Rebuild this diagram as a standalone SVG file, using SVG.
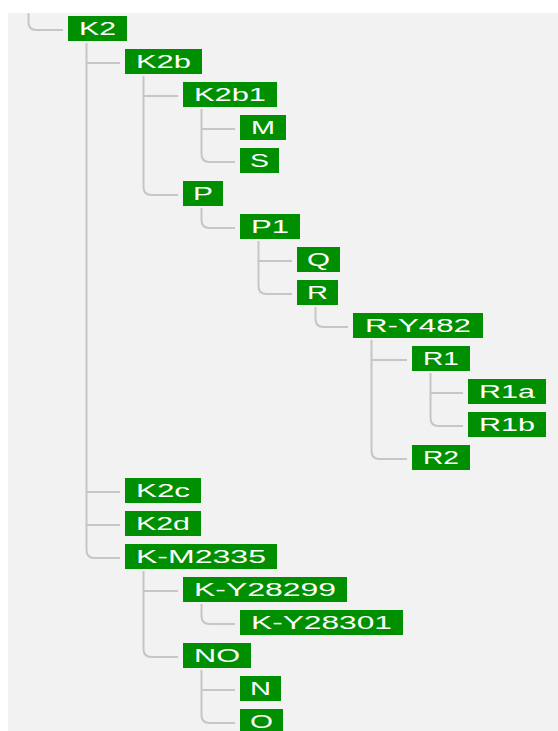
<svg xmlns="http://www.w3.org/2000/svg" width="558" height="731" viewBox="0 0 558 731">
<style>
.bg{fill:#f2f2f2}
.box{fill:#008f00}
.lbl{font-family:"Liberation Sans",Arial,sans-serif;font-size:17.5px;fill:#ffffff}
.conn path{fill:none;stroke:#c6c6c6;stroke-width:2}
</style>
<rect x="0" y="0" width="558" height="731" fill="#ffffff"/>
<rect class="bg" x="8" y="13" width="550" height="718"/>
<g id="connectors" class="conn">
<path d="M28.5,13 V22 Q28.5,30 36.5,30 H63"/>
<path d="M86.5,43 V550 Q86.5,558 94.5,558 H120 M86.5,63 H120 M86.5,492 H120 M86.5,525 H120"/>
<path d="M143.5,76 V187 Q143.5,195 151.5,195 H178 M143.5,96 H178"/>
<path d="M201.5,109 V154 Q201.5,162 209.5,162 H235 M201.5,129 H235"/>
<path d="M201.5,208 V220 Q201.5,228 209.5,228 H235"/>
<path d="M258.5,241 V286 Q258.5,294 266.5,294 H292 M258.5,261 H292"/>
<path d="M315.5,307 V319 Q315.5,327 323.5,327 H348"/>
<path d="M371.5,340 V451 Q371.5,459 379.5,459 H407 M371.5,360 H407"/>
<path d="M430.5,373 V418 Q430.5,426 438.5,426 H463 M430.5,393 H463"/>
<path d="M143.5,571 V649 Q143.5,657 151.5,657 H178 M143.5,591 H178"/>
<path d="M201.5,604 V616 Q201.5,624 209.5,624 H235"/>
<path d="M201.5,670 V715 Q201.5,723 209.5,723 H235 M201.5,690 H235"/>
</g>
<g id="n-K2"><rect class="box" x="68" y="16" width="59" height="25"/><text class="lbl" x="79" y="35" textLength="37" lengthAdjust="spacingAndGlyphs">K2</text></g>
<g id="n-K2b"><rect class="box" x="125" y="49" width="77" height="25"/><text class="lbl" x="136" y="68" textLength="55" lengthAdjust="spacingAndGlyphs">K2b</text></g>
<g id="n-K2b1"><rect class="box" x="183" y="82" width="94" height="25"/><text class="lbl" x="194" y="101" textLength="72" lengthAdjust="spacingAndGlyphs">K2b1</text></g>
<g id="n-M"><rect class="box" x="240" y="115" width="46" height="25"/><text class="lbl" x="251" y="134" textLength="24" lengthAdjust="spacingAndGlyphs">M</text></g>
<g id="n-S"><rect class="box" x="240" y="148" width="39" height="25"/><text class="lbl" x="250" y="167" textLength="19" lengthAdjust="spacingAndGlyphs">S</text></g>
<g id="n-P"><rect class="box" x="183" y="181" width="40" height="25"/><text class="lbl" x="193" y="200" textLength="20" lengthAdjust="spacingAndGlyphs">P</text></g>
<g id="n-P1"><rect class="box" x="240" y="214" width="60" height="25"/><text class="lbl" x="251" y="233" textLength="38" lengthAdjust="spacingAndGlyphs">P1</text></g>
<g id="n-Q"><rect class="box" x="297" y="247" width="43" height="25"/><text class="lbl" x="307" y="266" textLength="23" lengthAdjust="spacingAndGlyphs">Q</text></g>
<g id="n-R"><rect class="box" x="297" y="280" width="41" height="25"/><text class="lbl" x="307" y="299" textLength="21" lengthAdjust="spacingAndGlyphs">R</text></g>
<g id="n-R-Y482"><rect class="box" x="353" y="313" width="130" height="25"/><text class="lbl" x="365" y="332" textLength="106" lengthAdjust="spacingAndGlyphs">R-Y482</text></g>
<g id="n-R1"><rect class="box" x="412" y="346" width="58" height="25"/><text class="lbl" x="423" y="365" textLength="36" lengthAdjust="spacingAndGlyphs">R1</text></g>
<g id="n-R1a"><rect class="box" x="468" y="379" width="78" height="25"/><text class="lbl" x="479" y="398" textLength="56" lengthAdjust="spacingAndGlyphs">R1a</text></g>
<g id="n-R1b"><rect class="box" x="468" y="412" width="78" height="25"/><text class="lbl" x="479" y="431" textLength="56" lengthAdjust="spacingAndGlyphs">R1b</text></g>
<g id="n-R2"><rect class="box" x="412" y="445" width="58" height="25"/><text class="lbl" x="423" y="464" textLength="36" lengthAdjust="spacingAndGlyphs">R2</text></g>
<g id="n-K2c"><rect class="box" x="125" y="478" width="76" height="25"/><text class="lbl" x="136" y="497" textLength="54" lengthAdjust="spacingAndGlyphs">K2c</text></g>
<g id="n-K2d"><rect class="box" x="125" y="511" width="76" height="25"/><text class="lbl" x="136" y="530" textLength="54" lengthAdjust="spacingAndGlyphs">K2d</text></g>
<g id="n-K-M2335"><rect class="box" x="125" y="544" width="152" height="25"/><text class="lbl" x="136" y="563" textLength="130" lengthAdjust="spacingAndGlyphs">K-M2335</text></g>
<g id="n-K-Y28299"><rect class="box" x="183" y="577" width="164" height="25"/><text class="lbl" x="194" y="596" textLength="142" lengthAdjust="spacingAndGlyphs">K-Y28299</text></g>
<g id="n-K-Y28301"><rect class="box" x="240" y="610" width="163" height="25"/><text class="lbl" x="251" y="629" textLength="141" lengthAdjust="spacingAndGlyphs">K-Y28301</text></g>
<g id="n-NO"><rect class="box" x="183" y="643" width="68" height="25"/><text class="lbl" x="194" y="662" textLength="46" lengthAdjust="spacingAndGlyphs">NO</text></g>
<g id="n-N"><rect class="box" x="240" y="676" width="41" height="25"/><text class="lbl" x="250" y="695" textLength="21" lengthAdjust="spacingAndGlyphs">N</text></g>
<g id="n-O"><rect class="box" x="240" y="709" width="43" height="25"/><text class="lbl" x="250" y="728" textLength="23" lengthAdjust="spacingAndGlyphs">O</text></g>
</svg>
